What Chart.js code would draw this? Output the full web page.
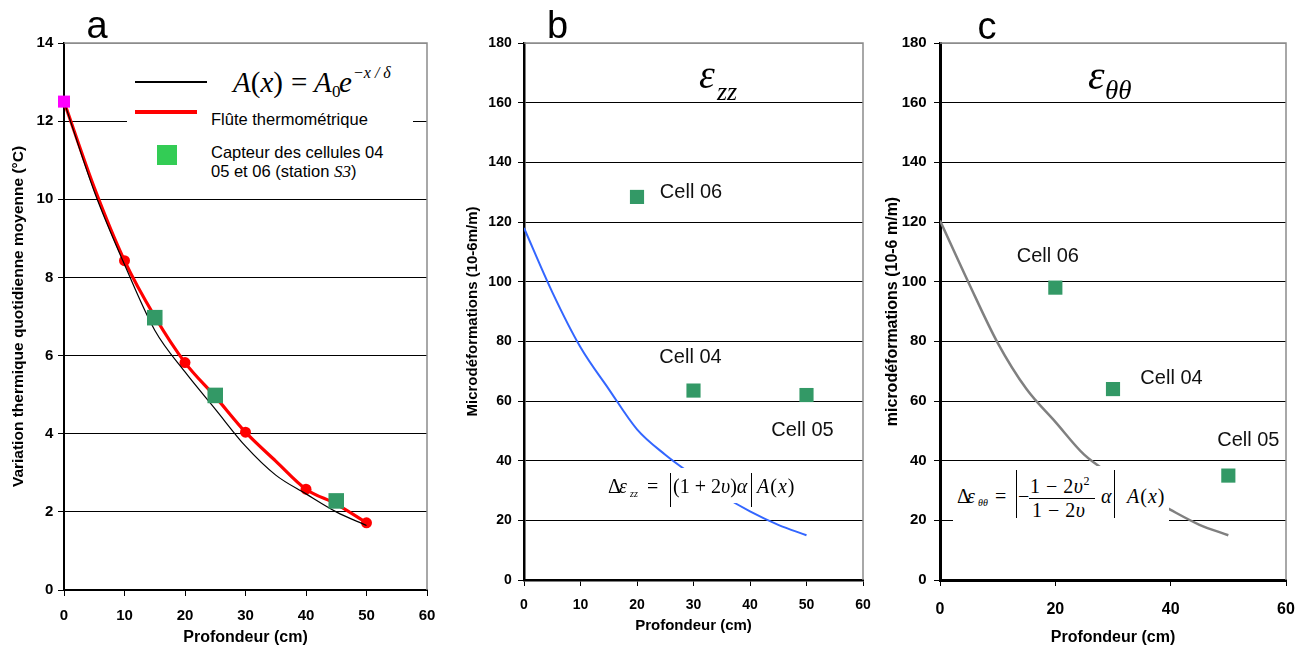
<!DOCTYPE html>
<html>
<head>
<meta charset="utf-8">
<script src="https://cdn.jsdelivr.net/npm/chart.js@4.4.1/dist/chart.umd.min.js"></script>
<style>
  body { margin: 0; background: #fff; width: 1311px; height: 646px; position: relative; overflow: hidden; font-family: 'Liberation Sans', Arial, sans-serif; color: #000; }
  canvas { position: absolute; top: 0; }
  .ov { position: absolute; line-height: 1; white-space: nowrap; }
  .serif { font-family: 'Liberation Serif', 'Times New Roman', serif; }
  .box { position: absolute; background: #fff; }
</style>
</head>
<body>
<canvas id="ca" width="440" height="660" style="left:0px"></canvas>
<canvas id="cb" width="425" height="660" style="left:455px"></canvas>
<canvas id="cc" width="431" height="660" style="left:880px"></canvas>
<script>
// depth of the curves (cm)
const depth = [0, 5, 10, 15, 20, 25, 30, 35, 40, 45, 50];
// panel a : daily mean thermal variation (°C)
const modelTemp = [12.5, 10.2, 8.33, 6.65, 5.58, 4.63, 3.68, 2.94, 2.46, 2.0, 1.65];
const fluteTemp = [12.5, 10.3, 8.43, 7.0, 5.82, 4.95, 4.04, 3.3, 2.58, 2.2, 1.72];
const sensorDepth = [15, 25, 45];
const sensorTemp = [6.97, 4.98, 2.28];
const surfaceDepth = [0];
const surfaceTemp = [12.5];
// panels b and c : microstrains (10-6 m/m)
const cellDepth = [20, 30, 50];
const cellNames = ['Cell 06', 'Cell 04', 'Cell 05'];
const strainZz = [118, 96.5, 78, 64, 50.5, 42, 35, 28.5, 23, 18.5, 15];
const cellZz = [128.4, 63.5, 62];
const strainTt = [120.5, 99.5, 79.5, 64, 53, 42, 35, 29, 23.5, 18.5, 15];
const cellTt = [98, 64, 35];

const FONT = "'Liberation Sans', Arial, sans-serif";
const pts = (xs, ys) => xs.map((x, i) => ({ x: x, y: ys[i] }));

// grey frame on top and right of the plot area
const frame = {
  id: 'frame',
  beforeDatasetsDraw(chart) {
    const { ctx, chartArea: a } = chart;
    ctx.save();
    ctx.strokeStyle = '#8c8c8c';
    ctx.lineWidth = 1.5;
    ctx.beginPath();
    ctx.moveTo(a.left, a.top);
    ctx.lineTo(a.right, a.top);
    ctx.lineTo(a.right, a.bottom);
    ctx.stroke();
    ctx.restore();
  }
};

// "Cell xx" text next to the sensor squares
const cellLabels = {
  id: 'cellLabels',
  afterDatasetsDraw(chart, args, opts) {
    if (!opts.offsets) return;
    const els = chart.getDatasetMeta(0).data;
    const ctx = chart.ctx;
    ctx.save();
    ctx.font = '20px ' + FONT;
    ctx.fillStyle = '#111';
    ctx.textAlign = 'center';
    ctx.textBaseline = 'middle';
    cellNames.forEach((name, i) => {
      const [dx, dy] = opts.offsets[i];
      ctx.fillText(name, els[i].x + dx, els[i].y + dy);
    });
    ctx.restore();
  }
};

function panel(id, o) {
  return new Chart(document.getElementById(id), {
    type: 'scatter',
    data: { datasets: o.datasets },
    options: {
      responsive: false,
      animation: false,
      devicePixelRatio: 1,
      layout: { padding: { left: 0, top: 43, right: o.padRight, bottom: 0 } },
      plugins: {
        legend: { display: false },
        tooltip: { enabled: false },
        cellLabels: { offsets: o.offsets }
      },
      scales: {
        x: {
          type: 'linear', min: 0, max: 60,
          ticks: { stepSize: o.xStep, padding: o.xPad, color: '#000', font: { family: FONT, weight: 'bold', size: o.xFont } },
          grid: { drawOnChartArea: false, tickLength: 6, color: '#000' },
          border: { color: '#000', width: o.axisW },
          title: { display: true, text: 'Profondeur (cm)', color: '#000',
                   font: { family: FONT, weight: 'bold', size: o.xtFont }, padding: { top: 0, bottom: o.xtPad } },
          afterFit(s) { s.height = o.xH; s.paddingLeft = 0; s.paddingRight = 0; }
        },
        y: {
          min: 0, max: o.yMax,
          ticks: { stepSize: o.yStep, padding: o.yPad, color: '#000', font: { family: FONT, weight: 'bold', size: o.yFont } },
          grid: { color: c => (c.tick && c.tick.value === o.yMax) ? '#8c8c8c' : '#000', tickColor: '#000', tickLength: 6, lineWidth: 1 },
          border: { color: '#000', width: o.axisW },
          title: { display: true, text: o.yTitle, color: '#000',
                   font: { family: FONT, weight: 'bold', size: o.ytFont }, padding: { top: o.ytPad, bottom: 0 } },
          afterFit(s) { s.width = o.yW; s.paddingTop = 0; s.paddingBottom = 0; }
        }
      }
    },
    plugins: [frame, cellLabels]
  });
}

panel('ca', {
  padRight: 13, yW: 64, xH: 70, yMax: 14, yStep: 2, xStep: 10, axisW: 2,
  xFont: 15, xPad: 10.7, xtFont: 16, xtPad: 12.4,
  yFont: 15, yPad: 4.7, ytFont: 15.5, ytPad: 9.2,
  yTitle: 'Variation thermique quotidienne moyenne (°C)',
  datasets: [
    { data: pts(sensorDepth, sensorTemp), pointStyle: 'rect', pointRadius: 11, backgroundColor: '#339966', borderWidth: 0, clip: false },
    { data: pts(surfaceDepth, surfaceTemp), pointStyle: 'rect', pointRadius: 8.5, backgroundColor: '#ff00ff', borderWidth: 0, clip: false },
    { data: pts(depth, modelTemp), showLine: true, borderColor: '#000', borderWidth: 1.2, pointRadius: 0, cubicInterpolationMode: 'monotone' },
    { data: pts(depth, fluteTemp), showLine: true, borderColor: '#ff0000', borderWidth: 3.2, cubicInterpolationMode: 'monotone',
      pointRadius: depth.map(d => (d > 0 && d % 10 === 0) ? 5.5 : 0), pointBackgroundColor: '#ff0000', pointBorderWidth: 0, clip: false }
  ]
});

panel('cb', {
  padRight: 17, yW: 69, xH: 80, yMax: 180, yStep: 20, xStep: 10, axisW: 2.5,
  xFont: 14, xPad: 10.6, xtFont: 15, xtPad: 25,
  yFont: 14, yPad: 6.3, ytFont: 15, ytPad: 8.5,
  yTitle: 'Microdéformations (10-6m/m)',
  offsets: [[54, -4], [-3, -33.5], [-4, 35]],
  datasets: [
    { data: pts(cellDepth, cellZz), pointStyle: 'rect', pointRadius: 10, backgroundColor: '#339966', borderWidth: 0 },
    { data: pts(depth, strainZz), showLine: true, borderColor: '#3366ff', borderWidth: 2, pointRadius: 0, cubicInterpolationMode: 'monotone' }
  ]
});

panel('cc', {
  padRight: 25, yW: 60, xH: 80, yMax: 180, yStep: 20, xStep: 20, axisW: 3,
  xFont: 16, xPad: 13.9, xtFont: 16, xtPad: 12.4,
  yFont: 15, yPad: 7.3, ytFont: 16, ytPad: 2.9,
  yTitle: 'microdéformations (10-6 m/m)',
  offsets: [[-7.5, -31.6], [58.5, -11], [20, -35]],
  datasets: [
    { data: pts(cellDepth, cellTt), pointStyle: 'rect', pointRadius: 10, backgroundColor: '#339966', borderWidth: 0 },
    { data: pts(depth, strainTt), showLine: true, borderColor: '#808080', borderWidth: 2.5, pointRadius: 0, cubicInterpolationMode: 'monotone' }
  ]
});

// ---- text overlays ----
function put(html, x, base, size, cls, extra) {
  const d = document.createElement('div');
  d.className = 'ov ' + (cls || '');
  d.innerHTML = html;
  d.style.cssText = 'left:' + x + 'px;top:' + (base - 0.84 * size) + 'px;font-size:' + size + 'px;' + (extra || '');
  document.body.appendChild(d);
  return d;
}
function rect(x, y, w, h, color) {
  const d = document.createElement('div');
  d.className = 'box';
  d.style.cssText = 'left:' + x + 'px;top:' + y + 'px;width:' + w + 'px;height:' + h + 'px;background:' + color;
  document.body.appendChild(d);
}

// panel letters
put('a', 47, 38, 38, '', 'width:100px;text-align:center');
put('b', 507.5, 38, 38, '', 'width:100px;text-align:center');
put('c', 937, 39, 38, '', 'width:100px;text-align:center');

// legend of panel a
rect(127, 58, 286, 137, '#fff');
rect(135, 81, 72, 1.5, '#000');
put('<i>A</i>(<i>x</i>)', 233, 92, 29, 'serif');
put('=', 291, 92, 29, 'serif');
put('<i>A</i>', 314, 92, 29, 'serif');
put('0', 332, 97, 17, 'serif');
put('<i>e</i>', 339, 92, 29, 'serif');
put('<i>−x / δ</i>', 353, 78, 16, 'serif');
rect(135, 110, 62, 4, '#ff0000');
put('Flûte thermométrique', 211, 125, 16.5);
rect(157, 145, 20, 20, '#33cc55');
put('Capteur des cellules 04', 211, 158, 16.5);
put('05 et 06 (station <i class="serif" style="font-size:17px">S3</i>)', 211, 177, 16.5);

// epsilon titles
put('<i>ε</i>', 699, 89, 40, 'serif');
put('<i>zz</i>', 717, 101, 26, 'serif');
put('<i>ε</i>', 1088, 89, 42, 'serif');
put('<i>θθ</i>', 1105, 99.5, 27, 'serif');

// formula panel b
rect(600, 468, 205, 35, '#fff');
put('Δ', 608, 493, 20, 'serif');
put('<i>ε</i>', 619, 493, 20, 'serif');
put('<i>zz</i>', 630, 497, 10, 'serif');
put('=', 647, 493, 20, 'serif');
rect(670, 473, 1.4, 34, '#000');
put('(1 + 2<i>υ</i>)<i>α</i>', 673, 493, 20, 'serif');
rect(751, 473, 1.4, 34, '#000');
put('<i>A</i>(<i>x</i>)', 757, 493, 20, 'serif', 'letter-spacing:1px');

// formula panel c
rect(953, 466, 216, 58, '#fff');
put('Δ', 957, 503, 20, 'serif');
put('<i>ε</i>', 967, 503, 20, 'serif');
put('<i>θθ</i>', 978, 506, 10, 'serif');
put('=', 995, 503, 20, 'serif');
rect(1016, 470, 1.4, 48, '#000');
put('−', 1018, 503, 20, 'serif');
put('1 − 2<i>υ</i><span style="font-size:12px;position:relative;top:-8px">2</span>', 1030, 493, 20, 'serif', 'letter-spacing:0.5px');
rect(1029, 498, 66, 1, '#000');
put('1 − 2<i>υ</i>', 1032, 517, 20, 'serif', 'letter-spacing:0.5px');
put('<i>α</i>', 1101, 503, 20, 'serif');
rect(1114, 470, 1.4, 48, '#000');
put('<i>A</i>(<i>x</i>)', 1127, 503, 20, 'serif', 'letter-spacing:1px');
</script>
</body>
</html>
